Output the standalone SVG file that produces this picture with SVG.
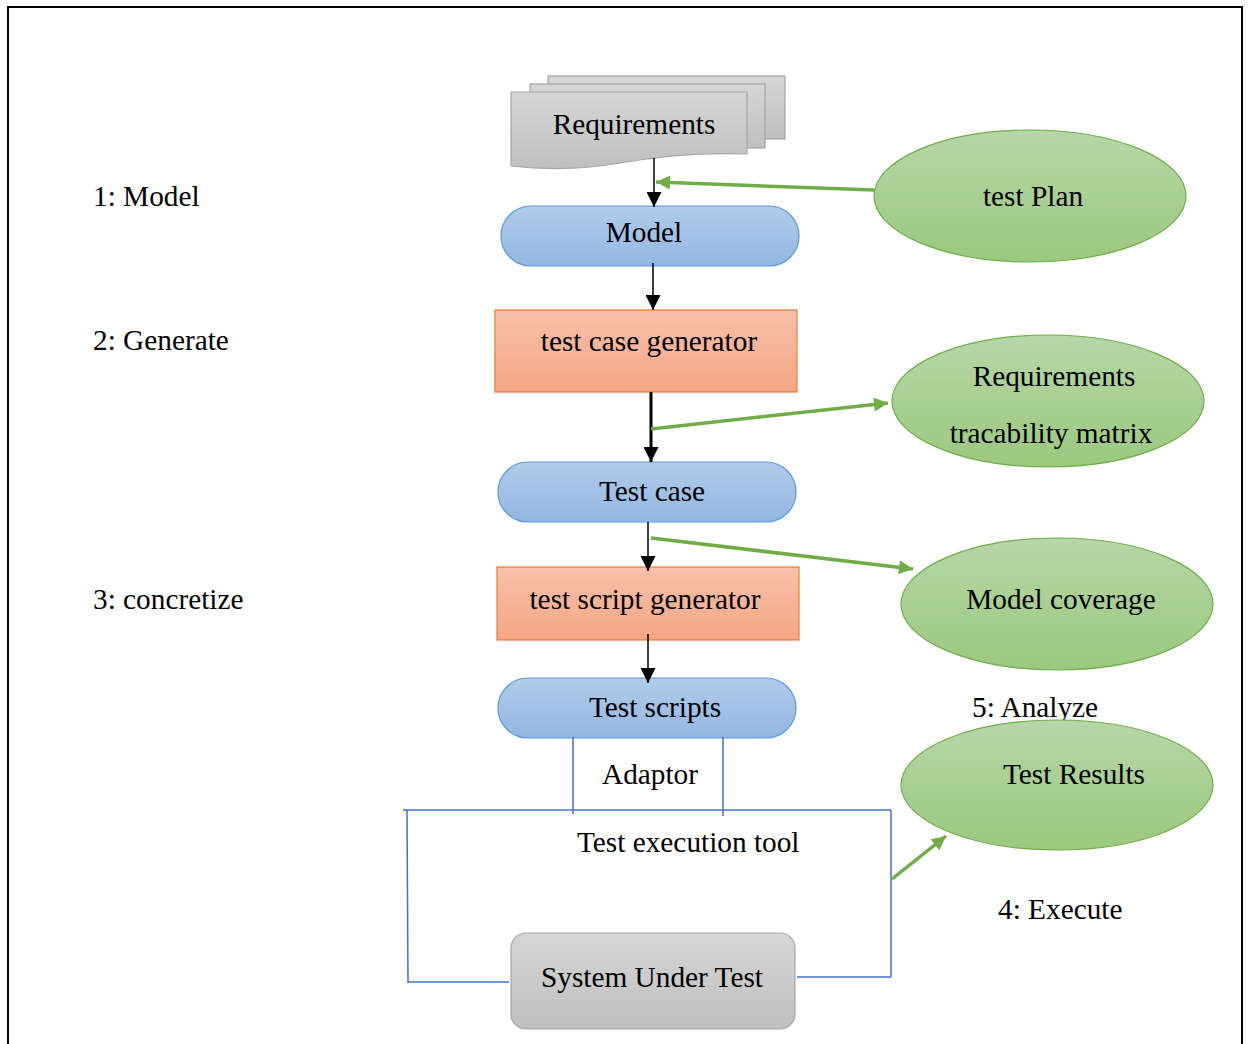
<svg xmlns="http://www.w3.org/2000/svg" width="1249" height="1044" viewBox="0 0 1249 1044">
  <defs>
    <linearGradient id="gGray" x1="0" y1="0" x2="0" y2="1">
      <stop offset="0" stop-color="#d6d6d6"/>
      <stop offset="1" stop-color="#bfbfbf"/>
    </linearGradient>
    <linearGradient id="gBlue" x1="0" y1="0" x2="0" y2="1">
      <stop offset="0" stop-color="#b1cbea"/>
      <stop offset="1" stop-color="#93b7e2"/>
    </linearGradient>
    <linearGradient id="gOrange" x1="0" y1="0" x2="0" y2="1">
      <stop offset="0" stop-color="#f8c1aa"/>
      <stop offset="1" stop-color="#f4a684"/>
    </linearGradient>
    <linearGradient id="gGreen" x1="0" y1="0" x2="0" y2="1">
      <stop offset="0" stop-color="#b6d7a8"/>
      <stop offset="1" stop-color="#9bc87e"/>
    </linearGradient>
    <marker id="arrBlack" viewBox="0 0 10 10" refX="10" refY="5" markerWidth="15" markerHeight="15" markerUnits="userSpaceOnUse" orient="auto">
      <path d="M0,0 L10,5 L0,10 z" fill="#000"/>
    </marker>
    <marker id="arrGreen" viewBox="0 0 10 10" refX="10" refY="5" markerWidth="16" markerHeight="14" markerUnits="userSpaceOnUse" orient="auto">
      <path d="M0,0 L10,5 L0,10 z" fill="#70ad47"/>
    </marker>
    <style>
      text { font-family: "Liberation Serif", "Times New Roman", serif; font-size: 29.3px; fill: #000; }
      .mid { text-anchor: middle; }
      .doc { fill: url(#gGray); stroke: #a6a6a6; stroke-width: 1.2; }
      .stad { fill: url(#gBlue); stroke: #5b9bd5; stroke-width: 1.2; }
      .proc { fill: url(#gOrange); stroke: #ed7d31; stroke-width: 1.2; }
      .ell { fill: url(#gGreen); stroke: #70ad47; stroke-width: 1.2; }
      .sut { fill: url(#gGray); stroke: #a6a6a6; stroke-width: 1.2; }
      .flow { stroke: #000; stroke-width: 1.5; fill: none; marker-end: url(#arrBlack); }
      .flowThick { stroke: #000; stroke-width: 3; fill: none; marker-end: url(#arrBlack); }
      .link { stroke: #70ad47; stroke-width: 3.5; fill: none; marker-end: url(#arrGreen); }
      .frame { stroke: #4472c4; stroke-width: 1.5; fill: none; }
    </style>
  </defs>

  <!-- page border -->
  <rect x="0" y="0" width="1249" height="1044" fill="#fff"/>
  <path d="M8,1044 L8,7 L1242,7 L1242,1044" fill="none" stroke="#000" stroke-width="2"/>

  <!-- phase labels -->
  <g id="labels">
    <text x="93" y="206">1: Model</text>
    <text x="93" y="350">2: Generate</text>
    <text x="93" y="609">3: concretize</text>
    <text x="972" y="717">5: Analyze</text>
    <text x="998" y="919">4: Execute</text>
  </g>

  <!-- requirements (stacked documents) -->
  <g id="requirements">
    <rect class="doc" x="548" y="76" width="237" height="63"/>
    <rect class="doc" x="530" y="84" width="235" height="64"/>
    <path class="doc" d="M511,92 L747,92 L747,154 C700,152 660,156 620,163 C580,170 545,170 511,166 Z"/>
    <text class="mid" x="634" y="134">Requirements</text>
  </g>

  <g id="model">
    <rect class="stad" x="501" y="206" width="298" height="60" rx="30" ry="30"/>
    <text class="mid" x="644" y="242">Model</text>
  </g>

  <g id="test-case-generator">
    <rect class="proc" x="495" y="310" width="302" height="82"/>
    <text class="mid" x="649" y="351">test case generator</text>
  </g>

  <g id="test-case">
    <rect class="stad" x="498" y="462" width="298" height="60" rx="30" ry="30"/>
    <text class="mid" x="652" y="501">Test case</text>
  </g>

  <g id="test-script-generator">
    <rect class="proc" x="497" y="567" width="302" height="73"/>
    <text class="mid" x="645" y="609">test script generator</text>
  </g>

  <g id="test-scripts">
    <rect class="stad" x="498" y="678" width="298" height="60" rx="30" ry="30"/>
    <text class="mid" x="655" y="717">Test scripts</text>
  </g>

  <g id="system-under-test">
    <rect class="sut" x="511" y="933" width="284" height="96" rx="15" ry="15"/>
    <text class="mid" x="652" y="987">System Under Test</text>
  </g>

  <g id="test-plan">
    <ellipse class="ell" cx="1030" cy="196" rx="156" ry="66"/>
    <text class="mid" x="1033" y="206">test Plan</text>
  </g>

  <g id="traceability-matrix">
    <ellipse class="ell" cx="1048" cy="401" rx="156" ry="66"/>
    <text class="mid" x="1054" y="386">Requirements</text>
    <text class="mid" x="1051" y="443">tracability matrix</text>
  </g>

  <g id="model-coverage">
    <ellipse class="ell" cx="1057" cy="604" rx="156" ry="66"/>
    <text class="mid" x="1061" y="609">Model coverage</text>
  </g>

  <g id="test-results">
    <ellipse class="ell" cx="1057" cy="785" rx="156" ry="65"/>
    <text class="mid" x="1074" y="784">Test Results</text>
  </g>

  <!-- adaptor and test execution tool -->
  <g id="execution-tool">
    <line class="frame" x1="573" y1="737" x2="573" y2="814"/>
    <line class="frame" x1="723" y1="737" x2="723" y2="816"/>
    <line class="frame" x1="403" y1="810" x2="891" y2="810"/>
    <line class="frame" x1="407" y1="810" x2="408" y2="983"/>
    <line class="frame" x1="408" y1="982" x2="509" y2="982"/>
    <line class="frame" x1="891" y1="810" x2="891" y2="977"/>
    <line class="frame" x1="797" y1="977" x2="891" y2="977"/>
    <text class="mid" x="650" y="784">Adaptor</text>
    <text x="577" y="852">Test execution tool</text>
  </g>

  <!-- connectors -->
  <g id="connectors">
    <line class="flow" x1="654" y1="158" x2="654" y2="207"/>
    <line class="flow" x1="653" y1="263" x2="653" y2="310"/>
    <line class="flowThick" x1="651" y1="392" x2="651" y2="462"/>
    <line class="flow" x1="648" y1="522" x2="648" y2="571"/>
    <line class="flow" x1="648" y1="634" x2="648" y2="683"/>
    <line class="link" x1="874" y1="190" x2="656" y2="182"/>
    <line class="link" x1="651" y1="429" x2="888" y2="403"/>
    <line class="link" x1="651" y1="538" x2="913" y2="569"/>
    <line class="link" x1="892" y1="879" x2="946" y2="836"/>
  </g>
</svg>
